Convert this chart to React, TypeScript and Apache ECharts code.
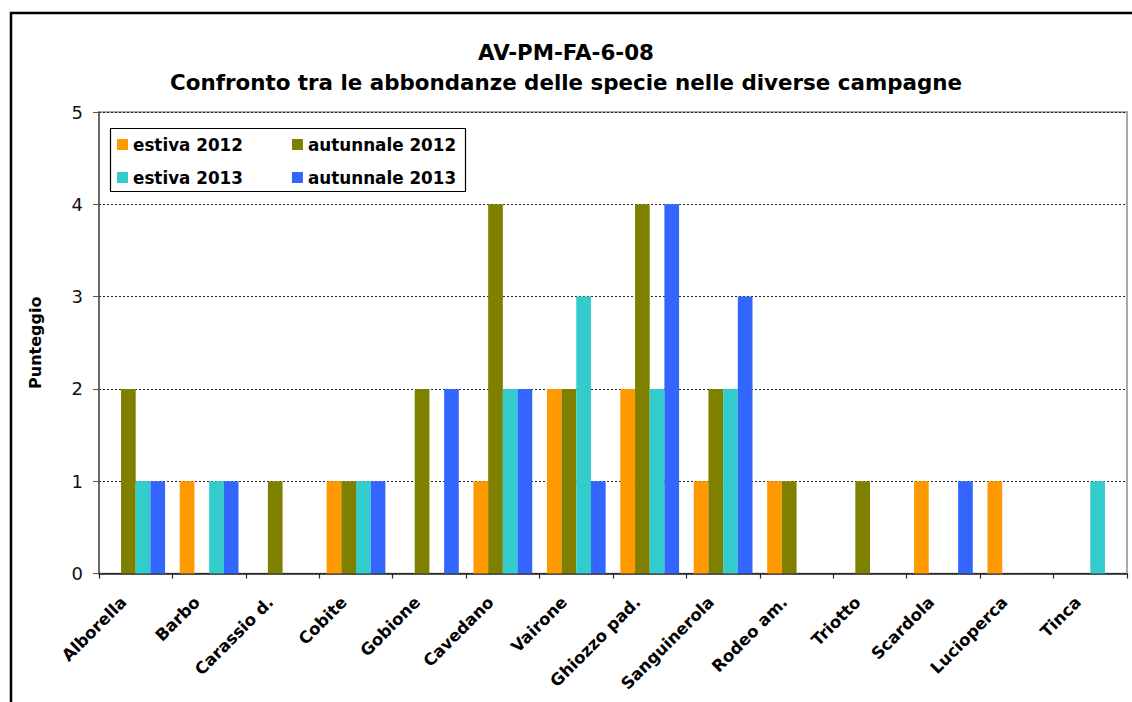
import React, { useEffect, useRef } from "react";
import * as echarts from "echarts";

const categories = [
  "Alborella", "Barbo", "Carassio d.", "Cobite", "Gobione", "Cavedano", "Vairone",
  "Ghiozzo pad.", "Sanguinerola", "Rodeo am.", "Triotto", "Scardola", "Lucioperca", "Tinca",
];
const estiva2012 = [0, 1, 0, 1, 0, 1, 2, 2, 1, 1, 0, 1, 1, 0];
const autunnale2012 = [2, 0, 1, 1, 2, 4, 2, 4, 2, 1, 1, 0, 0, 0];
const estiva2013 = [1, 1, 0, 1, 0, 2, 3, 2, 2, 0, 0, 0, 0, 1];
const autunnale2013 = [1, 1, 0, 1, 2, 2, 1, 4, 3, 0, 0, 1, 0, 0];
const seriesNames = ["estiva 2012", "autunnale 2012", "estiva 2013", "autunnale 2013"];
const seriesColors = ["#FF9900", "#808000", "#33CCCC", "#3366FF"];
const titleText = "AV-PM-FA-6-08\nConfronto tra le abbondanze delle specie nelle diverse campagne";
const yAxisName = "Punteggio";

const FONT = "DejaVu Sans";

export default function App() {
  const ref = useRef<HTMLDivElement>(null);
  useEffect(() => {
    document.body.style.margin = "0";
    if (!ref.current) return;
    const chart = echarts.init(ref.current, undefined, { renderer: "svg" });
    const data = [estiva2012, autunnale2012, estiva2013, autunnale2013];
    const legendText = { fontFamily: FONT, fontWeight: "bold" as const, fontSize: 16.8, color: "#000", lineHeight: 16 };
    chart.setOption({
      animation: false,
      backgroundColor: "#fff",
      title: {
        text: titleText,
        left: "center",
        top: 37,
        padding: 0,
        textStyle: { fontFamily: FONT, fontWeight: "bold", fontSize: 21.4, lineHeight: 30, color: "#000" },
      },
      legend: [
        {
          data: [seriesNames[0], seriesNames[1]],
          left: 117, top: 136, padding: 0, itemGap: 49,
          itemWidth: 11, itemHeight: 11, icon: "rect",
          selectedMode: false, textStyle: legendText,
        },
        {
          data: [seriesNames[2], seriesNames[3]],
          left: 117, top: 169, padding: 0, itemGap: 49,
          itemWidth: 11, itemHeight: 11, icon: "rect",
          selectedMode: false, textStyle: legendText,
        },
      ],
      graphic: [
        {
          type: "rect", x: 11, y: 13, silent: true,
          shape: { x: 0, y: 0, width: 1140, height: 710 },
          style: { fill: "none", stroke: "#000", lineWidth: 2.5 },
          z: 100,
        },
        {
          type: "rect", x: 110.5, y: 128.5, silent: true,
          shape: { x: 0, y: 0, width: 355, height: 63 },
          style: { fill: "none", stroke: "#000", lineWidth: 1.2 },
          z: 100,
        },
      ],
      grid: {
        left: 99, top: 112, right: 5, bottom: 128.5,
        show: true, borderColor: "#8c8c8c", borderWidth: 1.5,
        containLabel: false,
      },
      xAxis: {
        type: "category",
        data: categories,
        boundaryGap: true,
        axisLine: { show: true, lineStyle: { color: "#222", width: 1.5 } },
        axisTick: { show: true, length: 5, inside: false, lineStyle: { color: "#222", width: 1.2 } },
        axisLabel: {
          interval: 0, rotate: 45, margin: 14,
          fontFamily: FONT, fontWeight: "bold", fontSize: 16.5, color: "#000",
          padding: [0, 17, 0, 0],
        },
        splitLine: { show: false },
      },
      yAxis: {
        type: "value",
        min: 0, max: 5, interval: 1,
        name: yAxisName,
        nameLocation: "middle",
        nameRotate: 90,
        nameGap: 56,
        nameTextStyle: { fontFamily: FONT, fontWeight: "bold", fontSize: 16, color: "#000" },
        axisLine: { show: true, lineStyle: { color: "#555", width: 1.5 } },
        axisTick: { show: true, length: 6, inside: false, lineStyle: { color: "#555" } },
        axisLabel: { margin: 16, fontFamily: FONT, fontSize: 18, color: "#111" },
        splitLine: { show: true, lineStyle: { color: "#222", type: [2, 2], width: 1 } },
      },
      series: seriesNames.map((name, i) => ({
        name,
        type: "bar",
        data: data[i],
        barGap: "0%",
        barCategoryGap: "20%",
        itemStyle: { color: seriesColors[i] },
      })),
    });
    return () => chart.dispose();
  }, []);
  return <div ref={ref} style={{ width: 1132, height: 702 }} />;
}
